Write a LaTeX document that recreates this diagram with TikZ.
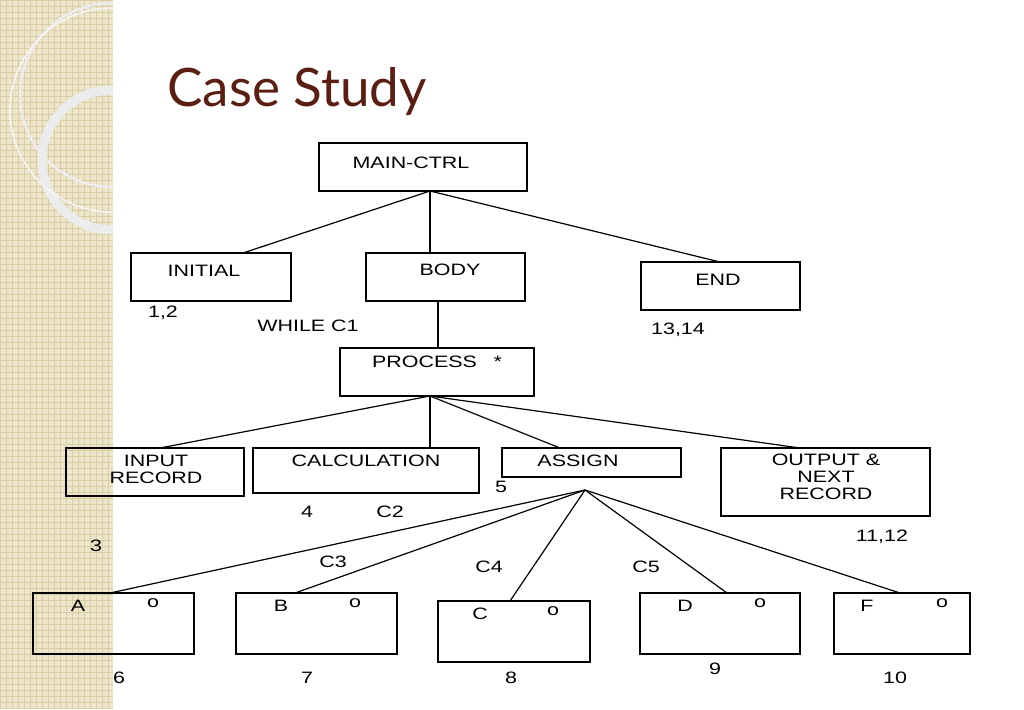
\documentclass[tikz,border=0pt]{standalone}
\usepackage{fontspec}
\setmainfont{Liberation Sans}
\newfontfamily\titlefont{Lato}
\newfontfamily\boxfont{Liberation Sans}[FakeStretch=1.3]
\definecolor{stripe}{HTML}{EDE6CC}
\definecolor{gridc}{HTML}{D9CDA2}
\definecolor{titlec}{HTML}{5A1F12}
\begin{document}
\begin{tikzpicture}[x=1pt,y=-1pt,
  box/.style={draw,line width=1.1pt,inner sep=0pt},
  lab/.style={font=\boxfont\fontsize{16.5}{17}\selectfont,align=center,inner sep=0pt},
  edge/.style={line width=1.2pt}]
\useasboundingbox (0,0) rectangle (1024,709);
\fill[white] (0,0) rectangle (1024,709);
\fill[stripe] (0,0) rectangle (113,709);
\foreach \i in {0,6,...,110} \draw[gridc,line width=0.4pt] (\i,0) -- (\i,709);
\foreach \j in {0,6,...,708} \draw[gridc,line width=0.4pt] (0,\j) -- (113,\j);
\begin{scope}
\clip (0,0) rectangle (113,709);
\draw[white!85!gray,line width=2.5pt] (112,95) circle[radius=92];
\draw[white!85!gray,line width=9pt] (112,160) circle[radius=70];
\draw[white!92!gray,line width=1.5pt] (112,110) circle[radius=102];
\end{scope}
\node[font=\titlefont\fontsize{53}{58}\selectfont,text=titlec,anchor=west] (title) at (164,92) {Case Study};
\newcommand\bx[5]{\node[box,minimum width=#4-#2,minimum height=#5-#3] (#1) at ({(#2+#4)/2},{(#3+#5)/2}) {};}
\bx{main}{319}{143}{527}{191}
\bx{init}{131}{253}{291}{301}
\bx{body}{366}{253}{525}{301}
\bx{end}{641}{262}{800}{310}
\bx{proc}{340}{348}{534}{396}
\bx{inp}{66}{448}{244}{496}
\bx{calc}{253}{448}{479}{493}
\bx{asg}{502}{448}{681}{477}
\bx{out}{721}{448}{930}{516}
\bx{a}{33}{593}{194}{654}
\bx{b}{236}{593}{397}{654}
\bx{c}{438}{601}{590}{662}
\bx{d}{640}{593}{800}{654}
\bx{f}{834}{593}{970}{654}
\node[lab] at (411,163) {MAIN-CTRL};
\node[lab] at (204,271) {INITIAL};
\node[lab] at (450,270) {BODY};
\node[lab] at (718,280) {END};
\node[lab] at (437,362) {PROCESS\quad *};
\node[lab] at (156,469) {INPUT\\RECORD};
\node[lab] at (366,461) {CALCULATION};
\node[lab] at (578,461) {ASSIGN};
\node[lab] at (826,477) {OUTPUT \&\\NEXT\\RECORD};
\node[lab] at (78,606) {A}; \node[lab] at (153,603) {o};
\node[lab] at (281,606) {B}; \node[lab] at (355,603) {o};
\node[lab] at (480,614) {C}; \node[lab] at (553,611) {o};
\node[lab] at (685,606) {D}; \node[lab] at (760,603) {o};
\node[lab] at (867,606) {F}; \node[lab] at (942,603) {o};
\foreach \t/\x/\y in {{1,2}/163/313,{WHILE C1}/308/326,{13,14}/678/330,5/501/487,4/307/512,C2/390/512,3/96/546,{11,12}/882/537,C3/333/562,C4/489/567,C5/646/567,6/119/678,7/307/678,8/511/678,9/715/669,10/895/678}
  \node[lab] at (\x,\y) {\t};
\coordinate (mb) at (430,191);
\draw[edge] (mb) -- (243,253);
\draw[edge] (mb) -- (430,253);
\draw[edge] (mb) -- (720,262);
\draw[edge] (438,301) -- (438,348);
\coordinate (pb) at (430,396);
\draw[edge] (pb) -- (160,448);
\draw[edge] (pb) -- (430,448);
\draw[edge] (pb) -- (560,448);
\draw[edge] (pb) -- (800,448);
\coordinate (ab) at (585,490);
\draw[edge] (ab) -- (110,593);
\draw[edge] (ab) -- (295,593);
\draw[edge] (ab) -- (510,601);
\draw[edge] (ab) -- (727,593);
\draw[edge] (ab) -- (900,593);
\end{tikzpicture}
\end{document}
